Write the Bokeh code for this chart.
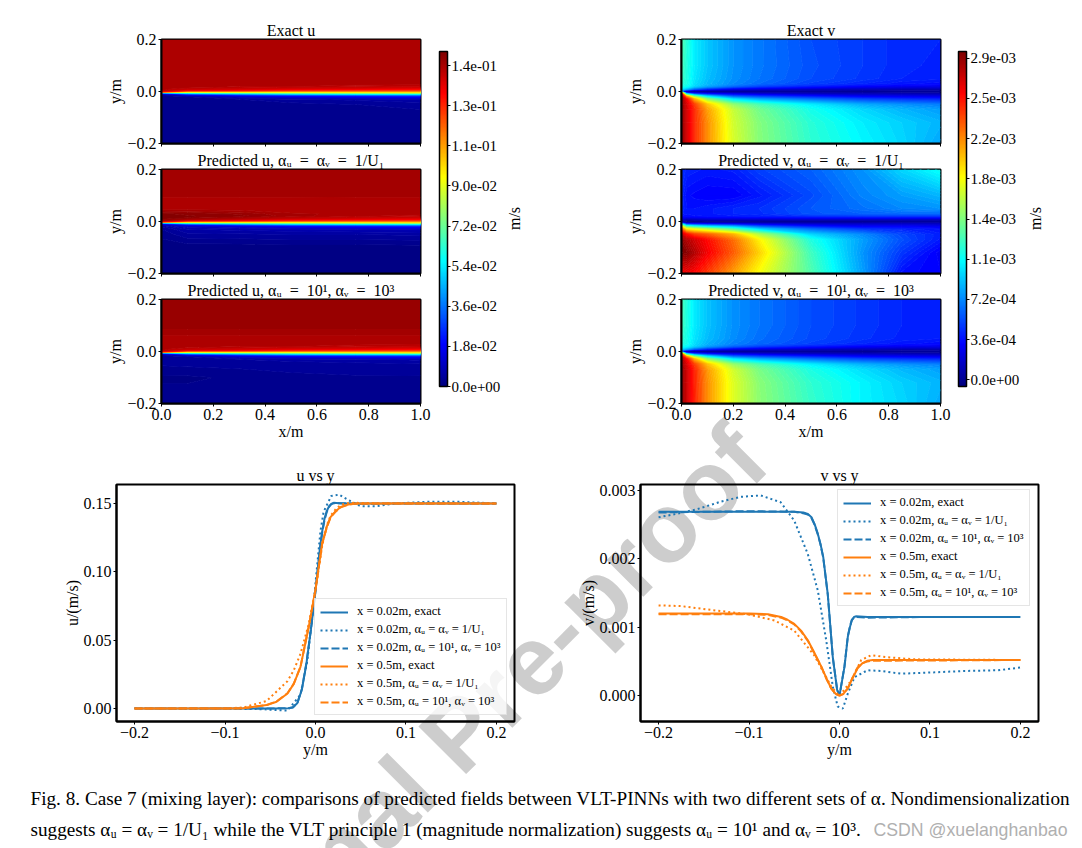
import numpy as np
from bokeh.embed import file_html
from bokeh.resources import INLINE
from bokeh.plotting import figure
from bokeh.models import (ColorBar, CustomJSTickFormatter, FixedTicker, Label, Legend,
                          LegendItem, LinearColorMapper, Pane, Range1d)

SERIF = "Liberation Serif"
BLUE, ORANGE = "#1f77b4", "#ff7f0e"

# ---- contour field grids ----
u_x = [0, .1, .3, .5, .75, 1.0]
u_y = [-.2, -.1, -.05, -.03, -.02, -.015, -.01, -.005, 0, .005, .01, .015, .02, .03, .05, .1, .2]
u_exact = [
 [.0022,.0022,.0022,.0022,.0020,.0020],
 [.0022,.0022,.0022,.0022,.0022,.0022],
 [.0022,.0022,.0022,.0025,.0030,.0035],
 [.0022,.0025,.0030,.0040,.0050,.0060],
 [.0025,.0030,.0080,.0120,.0150,.0180],
 [.0030,.0080,.0160,.0220,.0250,.0280],
 [.0050,.0220,.0340,.0420,.0470,.0500],
 [.0300,.0550,.0650,.0720,.0770,.0800],
 [.1300,.1000,.1000,.1000,.1030,.1050],
 [.1438,.1330,.1300,.1250,.1230,.1220],
 [.1438,.1410,.1390,.1360,.1340,.1320],
 [.1438,.1435,.1420,.1410,.1400,.1380],
 [.1438,.1438,.1430,.1430,.1420,.1410],
 [.1438,.1438,.1438,.1438,.1438,.1438],
 [.1438,.1438,.1438,.1438,.1438,.1438],
 [.1438,.1438,.1438,.1438,.1438,.1438],
 [.1438,.1438,.1438,.1438,.1438,.1438]]
u_pred1 = [
 [.0004,.0003,.0003,.0003,.0003,.0003],
 [.0005,.0005,.0005,.0006,.0006,.0008],
 [.0020,.0040,.0042,.0045,.0045,.0048],
 [.0030,.0060,.0065,.0070,.0075,.0080],
 [.0045,.0085,.0100,.0130,.0160,.0180],
 [.0060,.0120,.0170,.0230,.0260,.0290],
 [.0100,.0250,.0350,.0430,.0480,.0510],
 [.0350,.0600,.0680,.0740,.0790,.0810],
 [.1300,.1050,.1030,.1020,.1040,.1060],
 [.1470,.1370,.1320,.1270,.1240,.1230],
 [.1495,.1460,.1420,.1380,.1360,.1340],
 [.1495,.1490,.1460,.1430,.1410,.1390],
 [.1495,.1490,.1480,.1450,.1430,.1420],
 [.1490,.1485,.1470,.1445,.1440,.1435],
 [.1430,.1430,.1430,.1430,.1432,.1432],
 [.1445,.1445,.1445,.1445,.1445,.1445],
 [.1448,.1448,.1448,.1448,.1448,.1448]]
u_pred2 = [
 [.0025,.0025,.0025,.0025,.0025,.0025],
 [.0012,.0012,.0018,.0025,.0028,.0028],
 [.0032,.0034,.0036,.0038,.0040,.0042],
 [.0035,.0040,.0045,.0050,.0055,.0065],
 [.0040,.0045,.0090,.0125,.0155,.0180],
 [.0045,.0085,.0165,.0225,.0255,.0285],
 [.0060,.0225,.0345,.0425,.0475,.0505],
 [.0300,.0555,.0655,.0725,.0775,.0805],
 [.1300,.1005,.1005,.1005,.1035,.1055],
 [.1435,.1335,.1305,.1255,.1235,.1225],
 [.1435,.1415,.1395,.1365,.1345,.1325],
 [.1435,.1430,.1420,.1410,.1400,.1385],
 [.1435,.1435,.1430,.1430,.1420,.1410],
 [.1435,.1435,.1435,.1435,.1435,.1435],
 [.1435,.1435,.1435,.1435,.1435,.1435],
 [.1468,.1468,.1468,.1468,.1468,.1468],
 [.1468,.1468,.1468,.1468,.1468,.1468]]

v_x = [0, .02, .05, .1, .2, .3, .5, .7, .85, 1.0]
v_y = [-.2, -.12, -.07, -.05, -.03, -.02, -.01, -.005, 0, .005, .01, .02, .03, .05, .1, .2]
v_exact = [
 [2.90,2.70,2.45,2.15,1.70,1.46,1.20,1.05,.95,.80],
 [2.90,2.70,2.45,2.15,1.68,1.45,1.18,1.02,.93,.85],
 [2.90,2.70,2.45,2.10,1.65,1.40,1.12,.95,.85,.78],
 [2.90,2.69,2.40,2.00,1.50,1.28,1.02,.82,.74,.68],
 [2.90,2.60,2.05,1.50,1.00,.82,.65,.52,.46,.42],
 [2.90,2.15,1.50,1.00,.62,.52,.40,.30,.27,.25],
 [2.70,.95,.50,.35,.25,.18,.13,.11,.10,.09],
 [2.00,.25,.15,.10,.08,.06,.05,.04,.03,.03],
 [.20,.00,.00,.00,.00,.00,.00,.00,.00,.00],
 [.80,.40,.18,.12,.08,.07,.05,.04,.03,.03],
 [1.00,.85,.60,.42,.25,.20,.14,.11,.10,.09],
 [1.15,1.12,.95,.80,.62,.50,.39,.30,.26,.24],
 [1.20,1.14,.98,.86,.72,.63,.50,.42,.37,.34],
 [1.25,1.15,1.00,.88,.74,.66,.54,.47,.42,.40],
 [1.28,1.16,1.02,.90,.75,.67,.55,.48,.43,.41],
 [1.30,1.18,1.02,.90,.75,.67,.54,.48,.43,.42]]
v_pred1 = [
 [2.55,2.61,2.55,2.40,2.10,1.80,1.30,.78,.35,.30],
 [2.95,2.92,2.80,2.60,2.30,1.95,1.25,.75,.47,.28],
 [2.90,2.80,2.70,2.55,2.25,1.85,1.15,.78,.55,.38],
 [2.75,2.56,2.40,2.30,2.05,1.60,.95,.72,.52,.40],
 [2.30,1.85,1.75,1.60,1.30,.95,.65,.48,.42,.36],
 [1.90,1.30,1.15,1.00,.85,.60,.40,.30,.30,.27],
 [1.00,.40,.35,.30,.25,.20,.15,.15,.15,.14],
 [.30,-.03,.02,.04,.04,.04,.04,.04,.05,.05],
 [.10,-.05,-.03,-.02,-.02,-.01,.00,.00,.00,.01],
 [.10,.00,.03,.05,.05,.05,.05,.05,.05,.05],
 [.22,.12,.15,.18,.18,.18,.18,.17,.17,.16],
 [.35,.33,.35,.36,.38,.40,.43,.45,.45,.45],
 [.40,.37,.38,.38,.42,.44,.56,.60,.62,.62],
 [.42,.36,.36,.38,.42,.45,.57,.65,.72,.75],
 [.42,.34,.32,.30,.30,.38,.53,.70,.78,.85],
 [.45,.41,.40,.38,.40,.50,.60,.75,.95,1.10]]
v_pred2 = [
 [2.90,2.72,2.48,2.15,1.72,1.48,1.22,1.04,.95,.82],
 [2.90,2.72,2.47,2.15,1.72,1.47,1.20,1.04,.93,.85],
 [2.90,2.72,2.47,2.12,1.68,1.42,1.14,.97,.86,.79],
 [2.88,2.68,2.40,2.02,1.52,1.30,1.03,.84,.75,.69],
 [2.85,2.58,2.05,1.52,1.02,.84,.66,.53,.47,.43],
 [2.75,2.12,1.50,1.02,.63,.53,.41,.31,.28,.25],
 [2.40,.95,.52,.36,.25,.19,.14,.12,.10,.09],
 [1.50,.25,.16,.11,.08,.06,.05,.04,.03,.03],
 [.20,.00,.00,.00,.00,.00,.00,.00,.00,.00],
 [.70,.38,.18,.12,.08,.07,.05,.04,.03,.03],
 [.95,.82,.60,.42,.25,.20,.14,.11,.10,.09],
 [1.12,1.08,.94,.78,.60,.49,.38,.30,.26,.24],
 [1.18,1.12,.97,.84,.70,.62,.50,.42,.37,.34],
 [1.22,1.13,.99,.87,.73,.64,.53,.46,.41,.39],
 [1.26,1.15,1.01,.89,.74,.66,.54,.47,.42,.40],
 [1.28,1.16,1.01,.89,.74,.66,.54,.47,.42,.41]]

# ---- line profiles ----
yb_exact_u = [-.2,-.1,-.06,-.03,-.025,-.02,-.015,-.01,-.005,0,.005,.0075,.01,.0125,.015,.0175,.02,.03,.05,.1,.2]
u_002_exact = [0,0,0,.0002,.0008,.004,.014,.033,.058,.086,.118,.130,.139,.1445,.148,.1497,.1505,.15,.15,.15,.15]
u_002_pred2 = [0,0,0,.0002,.0009,.0042,.0145,.0335,.058,.086,.117,.129,.138,.144,.1475,.1495,.1502,.1502,.1498,.15,.15]
yb_u05 = [-.2,-.1,-.08,-.054,-.043,-.031,-.024,-.0166,-.0074,0,.0074,.0125,.0166,.0225,.028,.035,.0425,.07,.1,.2]
u_05_exact = [0,0,.0002,.0025,.005,.011,.018,.0305,.06,.087,.121,.133,.14,.1445,.1475,.149,.15,.15,.15,.15]
u_05_pred1 = [0,.0002,.0007,.0055,.0125,.020,.028,.040,.062,.087,.119,.134,.141,.146,.149,.1502,.1505,.1502,.1502,.15]
u_05_pred2 = [0,0,.0002,.0026,.0052,.0112,.0182,.0305,.0602,.087,.1205,.1325,.1398,.1442,.1472,.1488,.1498,.15,.15,.15]
yb_u002d = [-.2,-.15,-.1,-.06,-.04,-.031,-.0166,-.009,-.002,.0055,.009,.0174,.026,.035,.05,.068,.087,.124,.161,.2]
u_002_pred1 = [.0003,-.0002,0,-.0005,-.0012,-.0015,.010,.035,.078,.130,.144,.1555,.1565,.153,.148,.148,.150,.1512,.1512,.15]

yb_v002 = [-.2,-.1,-.05,-.04,-.035,-.031,-.0275,-.024,-.021,-.018,-.013,-.0074,-.0026,0,.0055,.0092,.0115,.0136,.016,.018,.031,.1,.2]
v_002_exact = [.00269,.00269,.00269,.00268,.00266,.00261,.00251,.00237,.00222,.00203,.00149,.00056,.00008,0,.00042,.00086,.00100,.0011,.00115,.00116,.00115,.00115,.00115]
v_002_pred2 = [.00268,.00270,.00269,.00267,.00265,.00260,.00250,.00236,.00221,.00202,.00148,.00056,.00009,0,.00043,.00087,.00101,.00111,.00114,.00115,.00114,.00115,.00115]
yb_v002d = [-.2,-.18,-.157,-.131,-.109,-.087,-.065,-.05,-.035,-.024,-.0147,-.0074,-.002,.0037,.0092,.0166,.031,.046,.068,.105,.138,.175,.2]
v_002_pred1 = [.00261,.00266,.00273,.00284,.00291,.00293,.00283,.00256,.00207,.00154,.00081,.00013,-.00016,-.00019,.00003,.00027,.00037,.00036,.00032,.00034,.00036,.00037,.00041]
yb_v05 = [-.2,-.1,-.079,-.0645,-.0575,-.05,-.0425,-.035,-.0275,-.02,-.014,-.009,-.004,0,.004,.009,.014,.02,.025,.031,.037,.046,.2]
v_05_exact = [.0012,.0012,.00119,.00115,.00111,.00105,.00095,.00081,.00062,.00042,.00024,.0001,.00002,0,.00002,.0001,.00024,.0004,.00047,.00051,.00052,.00052,.00052]
v_05_pred2 = [.00119,.00119,.00118,.00114,.00110,.00104,.00094,.0008,.00061,.00042,.00023,.0001,.00002,0,.00002,.0001,.00025,.00041,.00047,.0005,.00051,.00051,.00052]
yb_v05d = [-.2,-.175,-.146,-.1014,-.072,-.05,-.028,-.009,0,.0129,.024,.035,.0535,.083,.2]
v_05_pred1 = [.00132,.00131,.00126,.00119,.0011,.00095,.00059,.00013,-.00001,.00022,.00052,.00059,.00056,.00053,.00052]

# ---- labels ----
u_cb_ticks = [0, .018, .036, .054, .072, .09, .108, .126, .144]
v_cb_ticks = [0, .00036, .00072, .00108, .00144, .0018, .00216, .00252, .00288]
u_titles = ["Exact u", "Predicted u, αᵤ\u2002=\u2002αᵥ\u2002=\u20021/U₁", "Predicted u, αᵤ\u2002=\u200210¹, αᵥ\u2002=\u200210³"]
v_titles = ["Exact v", "Predicted v, αᵤ\u2002=\u2002αᵥ\u2002=\u20021/U₁", "Predicted v, αᵤ\u2002=\u200210¹, αᵥ\u2002=\u200210³"]
line_labels = ["x = 0.02m, exact", "x = 0.02m, αᵤ = αᵥ = 1/U₁", "x = 0.02m, αᵤ = 10¹, αᵥ = 10³",
               "x = 0.5m, exact", "x = 0.5m, αᵤ = αᵥ = 1/U₁", "x = 0.5m, αᵤ = 10¹, αᵥ = 10³"]
caption1 = "Fig. 8. Case 7 (mixing layer): comparisons of predicted fields between VLT-PINNs with two different sets of α. Nondimensionalization"
caption2 = "suggests αᵤ = αᵥ = 1/U₁ while the VLT principle 1 (magnitude normalization) suggests αᵤ = 10¹ and αᵥ = 10³."
credit = "CSDN @xuelanghanbao"
mark = "Journal Pre-proof"


def jet(t):
    t = np.clip(t, 0, 1)
    r = np.clip(np.minimum(4 * t - 1.5, -4 * t + 4.5), 0, 1)
    g = np.clip(np.minimum(4 * t - 0.5, -4 * t + 3.5), 0, 1)
    b = np.clip(np.minimum(4 * t + 0.5, -4 * t + 2.5), 0, 1)
    return "#%02x%02x%02x" % (int(r * 255), int(g * 255), int(b * 255))


JET256 = [jet(i / 255) for i in range(256)]


def tickfmt(d):
    return CustomJSTickFormatter(code=f"return tick.toFixed({d}).replace('-', '\\u2212');")


BLANK = CustomJSTickFormatter(code="return '';")
EXPFMT = CustomJSTickFormatter(code="""
const s = tick.toExponential(1).split('e');
const e = parseInt(s[1]);
return s[0] + 'e' + (e < 0 ? '-' : '+') + String(Math.abs(e)).padStart(2, '0');
""")

ML, MT, MR, MB = 70, 30, 12, 48


def base(left, top, w, h, xr, yr, title, xt, yt, xfmt, yfmt, xlabel, ylabel):
    p = figure(frame_width=w, frame_height=h, x_range=Range1d(*xr), y_range=Range1d(*yr),
               output_backend="svg", toolbar_location=None, min_border_left=ML, min_border_top=MT,
               min_border_right=MR, min_border_bottom=MB, background_fill_alpha=0,
               border_fill_alpha=0,
               styles={"position": "absolute", "left": f"{left - ML}px", "top": f"{top - MT}px"})
    p.title.text = title
    p.title.text_font = SERIF
    p.title.text_font_size = "16px"
    p.title.text_font_style = "normal"
    p.title.text_color = "black"
    p.title.align = "center"
    p.title.standoff = 2
    p.title.offset = 0
    p.grid.visible = False
    p.outline_line_color = "black"
    p.outline_line_width = 2
    p.outline_line_alpha = 1
    for ax, t, f, lab in ((p.xaxis[0], xt, xfmt, xlabel), (p.yaxis[0], yt, yfmt, ylabel)):
        ax.ticker = FixedTicker(ticks=t)
        ax.formatter = f
        ax.axis_label = lab
        ax.axis_label_text_font = SERIF
        ax.axis_label_text_font_size = "16px"
        ax.axis_label_text_font_style = "normal"
        ax.axis_label_text_color = "black"
        ax.major_label_text_font = SERIF
        ax.major_label_text_font_size = "16px"
        ax.major_label_text_color = "black"
        ax.major_tick_in = 0
        ax.major_tick_out = 3
        ax.major_tick_line_color = "black"
        ax.minor_tick_line_color = None
        ax.axis_line_color = "black"
        ax.axis_line_width = 2
        ax.major_label_standoff = 2
        ax.axis_label_standoff = 0
    return p


def heat(left, top, bottom_row, x, y, z, scale, low, high, title):
    w, h = 259, 104
    xfmt = tickfmt(1) if bottom_row else BLANK
    p = base(left, top, w, h, (0, 1), (-.2, .2), title, [0, .2, .4, .6, .8, 1.0], [-.2, 0, .2],
             xfmt, tickfmt(1), "x/m" if bottom_row else "", "y/m")
    levels = np.linspace(low, high, 101)
    mids = (levels[:-1] + levels[1:]) / 2
    cols = [jet((m - low) / (high - low)) for m in mids]
    p.contour(np.array(x), np.array(y), np.array(z) * scale, levels, fill_color=cols, line_color=cols, line_width=1)
    return p


def prof(left, title, series, yr, yfmtd, yticks, ylabel, legend_xy):
    p = base(left, 484, 398, 237, (-.22, .22), yr, title, [-.2, -.1, 0, .1, .2], yticks,
             tickfmt(1), tickfmt(yfmtd), "y/m", ylabel)
    items = []
    for (xs, ys, col, dash), lab in zip(series, line_labels):
        r = p.line(xs, ys, line_color=col, line_width=2, line_dash=dash)
        items.append(LegendItem(label=lab, renderers=[r]))
    leg = Legend(items=items, location=legend_xy, label_text_font=SERIF, label_text_font_size="12.5px",
                 label_text_color="black", glyph_width=28, glyph_height=14, label_height=14,
                 label_standoff=9, spacing=3, margin=0, padding=5, border_line_color="#cccccc",
                 border_line_width=1, background_fill_alpha=0.8)
    p.add_layout(leg, "center")
    return p


# background canvas: watermark, caption and colour bars
bg = figure(width=1082, height=848, x_range=Range1d(0, 1082), y_range=Range1d(848, 0),
            x_axis_type=None, y_axis_type=None,
            output_backend="svg", toolbar_location=None, min_border=0, outline_line_color=None,
            styles={"position": "absolute", "left": "0px", "top": "0px"})
bg.grid.visible = False
bg.add_layout(Label(x=458, y=733, text=mark, angle=45, angle_units="deg", text_font="Liberation Sans",
                    text_font_style="bold", text_font_size="98px", text_color="#cdcdcd",
                    text_align="center", text_baseline="middle"))
for txt, yy in ((caption1, 798), (caption2, 829)):
    bg.add_layout(Label(x=30, y=yy, text=txt, text_font=SERIF, text_font_size="19.2px", text_color="black",
                        text_baseline="middle"))
bg.add_layout(Label(x=873, y=829, text=credit, text_font="Liberation Sans", text_font_size="17.7px",
                    text_color="#b0b0b0", text_baseline="middle"))
for xx, cb_ticks, low, high in ((439, u_cb_ticks, 0, .1503), (958, v_cb_ticks, -.00006, .00294)):
    cb = ColorBar(color_mapper=LinearColorMapper(palette=JET256, low=low, high=high),
                  ticker=FixedTicker(ticks=cb_ticks), formatter=EXPFMT, width=8, height=335,
                  location=(xx, 848 - 386), padding=0, margin=0, background_fill_alpha=0,
                  major_tick_in=0, major_tick_out=3, major_tick_line_color="black", minor_tick_line_color=None,
                  bar_line_color="black", bar_line_width=1.5, label_standoff=1,
                  major_label_text_font=SERIF, major_label_text_font_size="15px", major_label_text_color="black")
    bg.add_layout(cb, "center")
for xx in (514, 1035):
    bg.add_layout(Label(x=xx, y=218, text="m/s", angle=90, angle_units="deg", text_font=SERIF, text_font_size="16px",
                        text_color="black", text_align="center", text_baseline="middle"))

panels = [bg]
for i, (top, ut, vt, uz, vz) in enumerate(zip((39, 169, 299), u_titles, v_titles,
                                              (u_exact, u_pred1, u_pred2), (v_exact, v_pred1, v_pred2))):
    panels.append(heat(161, top, i == 2, u_x, u_y, uz, 1.0, 0, .1503, ut))
    panels.append(heat(681, top, i == 2, v_x, v_y, vz, 1e-3, -.00006, .00294, vt))

u_series = [(yb_exact_u, u_002_exact, BLUE, "solid"), (yb_u002d, u_002_pred1, BLUE, "2 3"),
            (yb_exact_u, u_002_pred2, BLUE, "8 3"), (yb_u05, u_05_exact, ORANGE, "solid"),
            (yb_u05, u_05_pred1, ORANGE, "2 3"), (yb_u05, u_05_pred2, ORANGE, "8 3")]
v_series = [(yb_v002, v_002_exact, BLUE, "solid"), (yb_v002d, v_002_pred1, BLUE, "2 3"),
            (yb_v002, v_002_pred2, BLUE, "8 3"), (yb_v05, v_05_exact, ORANGE, "solid"),
            (yb_v05d, v_05_pred1, ORANGE, "2 3"), (yb_v05, v_05_pred2, ORANGE, "8 3")]
panels.append(prof(116, "u vs y", u_series, (-.0095, .1639), 2, [0, .05, .1, .15], "u/(m/s)", (198, 6)))
panels.append(prof(640, "v vs y", v_series, (-.00038, .00309), 3, [0, .001, .002, .003], "v/(m/s)", (197, 115)))

page = Pane(elements=panels)
open("out.html", "w").write(file_html(page, INLINE))
